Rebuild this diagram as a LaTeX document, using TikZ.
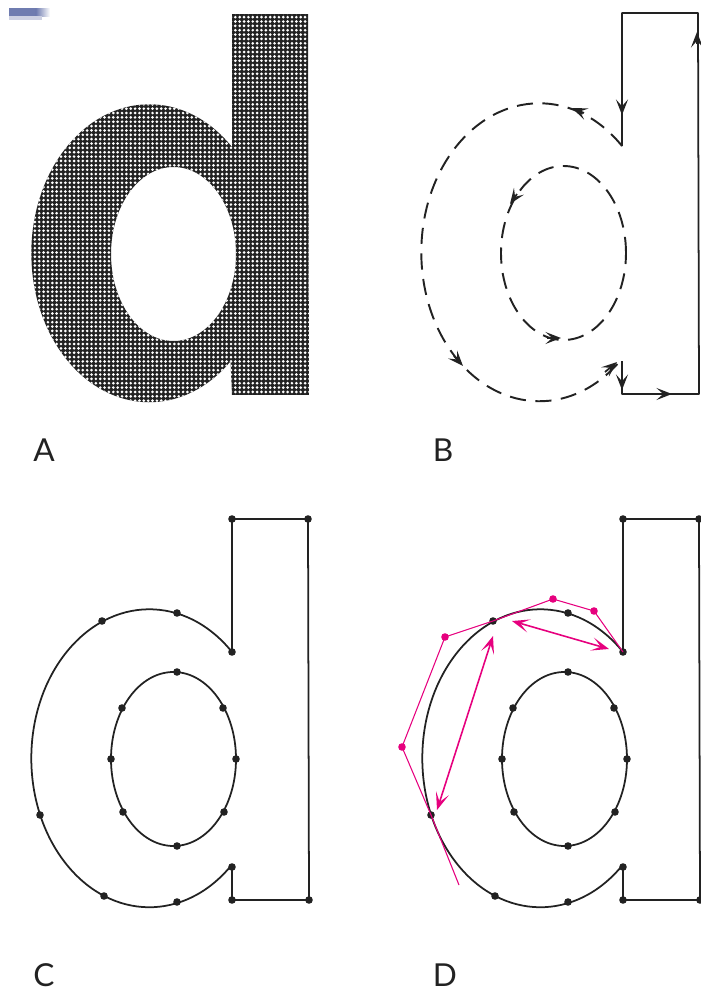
\documentclass[tikz,border=0pt]{standalone}
\usepackage{amsmath}
\usepackage{fontspec}
\setmainfont{Lato}
\usepackage{tikz}
\usetikzlibrary{arrows, arrows.meta, patterns.meta}

\definecolor{inkdark}{HTML}{222222}
\definecolor{handlepink}{HTML}{E6007E}
\definecolor{smudgeblue}{HTML}{6F7CB0}

\tikzset{
  outline/.style={draw=inkdark, line width=0.5pt, line join=round},
  dashline/.style={draw=inkdark, line width=0.55pt, dash pattern=on 4.6pt off 2.7pt},
  flowtip/.style={draw=inkdark, line width=0.5pt, -{Stealth[length=4.4pt, width=3.4pt, inset=1.9pt]}},
  handleline/.style={draw=handlepink, line width=0.3pt},
  spanarrow/.style={draw=handlepink, line width=0.45pt, {Stealth[length=5pt, width=3.8pt, inset=2.6pt]}-{Stealth[length=5pt, width=3.8pt, inset=2.6pt]}},
  panellabel/.style={font=\fontsize{9}{9}\selectfont, text=inkdark, inner sep=0pt}
}

% Outline points of the letter, set inside each panel's scope
\newcommand{\lettercoords}{
  \coordinate (TL) at (2.32, 4.70);
  \coordinate (TR) at (3.08, 4.70);
  \coordinate (BR) at (3.09, 0.89);
  \coordinate (BL) at (2.32, 0.89);
  \coordinate (SB) at (2.32, 1.22);
  \coordinate (ST) at (2.32, 3.37);
  \coordinate (O1) at (1.77, 3.76);
  \coordinate (O2) at (1.02, 3.68);
  \coordinate (O3) at (0.40, 1.74);
  \coordinate (O4) at (1.04, 0.93);
  \coordinate (O5) at (1.77, 0.87);
  \coordinate (I1) at (1.77, 3.17);
  \coordinate (I2) at (2.23, 2.81);
  \coordinate (I3) at (2.36, 2.30);
  \coordinate (I4) at (2.24, 1.77);
  \coordinate (I5) at (1.77, 1.43);
  \coordinate (I6) at (1.23, 1.77);
  \coordinate (I7) at (1.11, 2.30);
  \coordinate (I8) at (1.22, 2.81);
}
\newcommand{\outercurve}{(ST) arc[start angle=45.5, end angle=313.5, x radius=1.18, y radius=1.49]}
\newcommand{\innercurve}{(1.735, 2.30) ellipse [x radius=0.625, y radius=0.87]}
\newcommand{\stemline}{(SB) -- (BL) -- (BR) -- (TR) -- (TL) -- (ST)}
\newcommand{\letterdots}{
  \foreach \pt in {TL, TR, BR, BL, SB, ST, O1, O2, O3, O4, O5, I1, I2, I3, I4, I5, I6, I7, I8}
    \fill[inkdark] (\pt) circle (0.038);
}

\begin{document}
\begin{tikzpicture}[scale=1]
  \useasboundingbox (0, 0) rectangle (7, 9.89);

  % Scan mark
  \fill[smudgeblue] (0.09, 9.73) rectangle (0.36, 9.81);
  \shade[left color=smudgeblue, right color=white] (0.36, 9.73) rectangle (0.50, 9.81);
  \fill[smudgeblue!35] (0.09, 9.69) rectangle (0.42, 9.73);

  % Panel A
  \begin{scope}[shift={(0, 5.05)}]
    \lettercoords
    \fill[inkdark, even odd rule, postaction={pattern={Dots[radius=0.42pt, distance=1.24pt]}, pattern color=white, even odd rule}]
      \outercurve -- (BL) -- (BR) -- (TR) -- (TL) -- cycle \innercurve;
  \end{scope}

  % Panel B
  \begin{scope}[shift={(3.90, 5.06)}]
    \lettercoords
    \draw[dashline] \outercurve;
    \draw[dashline] \innercurve;
    \draw[outline] \stemline;
  \end{scope}
  \coordinate (T1) at (6.22, 8.86);
  \coordinate (H1) at (6.22, 8.74);
  \coordinate (T2) at (6.97, 9.45);
  \coordinate (H2) at (6.97, 9.57);
  \coordinate (T3) at (5.84, 8.76);
  \coordinate (H3) at (5.72, 8.81);
  \coordinate (T4) at (5.17, 7.95);
  \coordinate (H4) at (5.10, 7.85);
  \coordinate (T5) at (5.47, 6.51);
  \coordinate (H5) at (5.61, 6.51);
  \coordinate (T6) at (4.54, 6.33);
  \coordinate (H6) at (4.63, 6.23);
  \coordinate (T7) at (6.05, 6.17);
  \coordinate (H7) at (6.17, 6.27);
  \coordinate (T8) at (6.22, 6.14);
  \coordinate (H8) at (6.22, 5.99);
  \coordinate (T9) at (6.58, 5.95);
  \coordinate (H9) at (6.72, 5.95);
  \foreach \i in {1,...,9}
    \draw[flowtip] (T\i) -- (H\i);

  % Panel C
  \begin{scope}
    \lettercoords
    \draw[outline] \outercurve;
    \draw[outline] \innercurve;
    \draw[outline] \stemline;
    \letterdots
  \end{scope}

  % Panel D
  \begin{scope}[shift={(3.91, 0)}]
    \lettercoords
    \draw[outline] \outercurve;
    \draw[outline] \innercurve;
    \draw[outline] \stemline;
    \letterdots
    \coordinate (H1) at (2.03, 3.78);
    \coordinate (H2) at (1.62, 3.90);
    \coordinate (H3) at (0.54, 3.52);
    \coordinate (H4) at (0.11, 2.42);
    \coordinate (HE) at (0.68, 1.04);
    \draw[handleline] (ST) -- (H1) -- (H2) -- (O2) -- (H3) -- (H4) -- (O3) -- (HE);
    \foreach \pt in {H1, H2, H3, H4}
      \fill[handlepink] (\pt) circle (0.038);
    \coordinate (S1) at (1.21, 3.68);
    \coordinate (S2) at (2.18, 3.40);
    \coordinate (S3) at (1.02, 3.53);
    \coordinate (S4) at (0.46, 1.79);
    \draw[spanarrow] (S1) -- (S2);
    \draw[spanarrow] (S3) -- (S4);
  \end{scope}

  % Labels
  \node[panellabel] (labelA) at (0.44, 5.39) {A};
  \node[panellabel] (labelB) at (4.43, 5.39) {B};
  \node[panellabel] (labelC) at (0.44, 0.135) {C};
  \node[panellabel] (labelD) at (4.45, 0.14) {D};
\end{tikzpicture}
\end{document}
